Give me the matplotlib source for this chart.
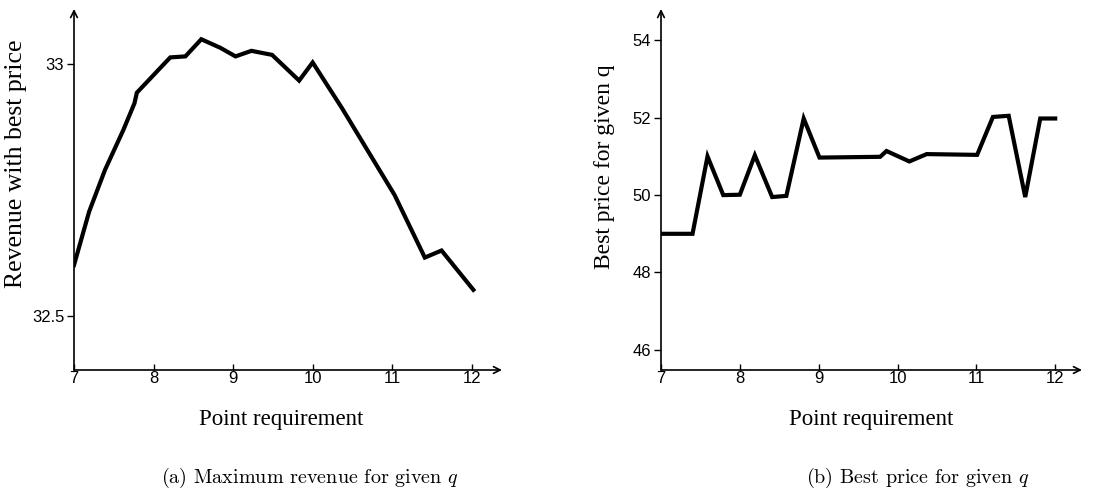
import matplotlib
matplotlib.use('Agg')
import matplotlib.pyplot as plt

# Left panel: maximum revenue vs point requirement
rev_q = [7.0, 7.19, 7.39, 7.62, 7.76, 7.79, 8.21, 8.40, 8.60, 8.84, 9.03,
         9.23, 9.49, 9.83, 10.00, 10.37, 11.03, 11.41, 11.62, 12.02]
revenue = [32.601, 32.707, 32.790, 32.869, 32.922, 32.943, 33.013, 33.015,
           33.049, 33.032, 33.015, 33.026, 33.018, 32.967, 33.003, 32.912,
           32.740, 32.616, 32.630, 32.552]

# Right panel: best price vs point requirement
price_q = [7.0, 7.40, 7.59, 7.79, 8.00, 8.19, 8.41, 8.59, 8.81, 9.01, 9.78,
           9.86, 10.15, 10.37, 11.01, 11.21, 11.41, 11.62, 11.81, 12.0]
best_price = [49.0, 49.0, 51.0, 50.0, 50.01, 51.03, 49.95, 49.98, 51.98,
              50.97, 50.99, 51.14, 50.87, 51.06, 51.04, 52.02, 52.05, 49.95,
              51.98, 51.98]

x_ticks = [7, 8, 9, 10, 11, 12]
rev_ticks = [32.5, 33]
rev_ticklabels = ["32.5", "33"]
price_ticks = [46, 48, 50, 52, 54]

plt.rcParams['mathtext.fontset'] = 'cm'

W, H = 1104, 496
fig = plt.figure(figsize=(W / 100, H / 100), dpi=100)


def style_axes(ax):
    for s in ax.spines.values():
        s.set_visible(False)
    arrow = dict(arrowstyle='->', lw=1.2, color='black',
                 shrinkA=0, shrinkB=0, mutation_scale=12)
    ax.annotate('', xy=(1, 0), xytext=(0, 0), xycoords='axes fraction',
                arrowprops=arrow)
    ax.annotate('', xy=(0, 1), xytext=(0, 0), xycoords='axes fraction',
                arrowprops=arrow)
    ax.tick_params(axis='x', direction='in', length=4, width=1, pad=1,
                   labelsize=12)
    ax.tick_params(axis='y', direction='out', length=5, width=1, pad=2,
                   labelsize=12)
    for lab in ax.get_xticklabels() + ax.get_yticklabels():
        lab.set_family('Liberation Sans')


# ─────────────── left panel ───────────────
ax1 = fig.add_axes([74 / W, 126 / H, 428 / W, 361 / H])
ax1.plot(rev_q, revenue, color='black', linewidth=3, solid_joinstyle='miter')
ax1.set_xlim(7, 12.38)
ax1.set_ylim(32.393, 33.109)
ax1.set_xticks(x_ticks)
ax1.set_yticks(rev_ticks)
ax1.set_yticklabels(rev_ticklabels)
style_axes(ax1)
ax1.set_ylabel("Revenue with best price", family='Liberation Serif', fontsize=18.5)
ax1.yaxis.set_label_coords(-0.11, 0.571)
ax1.set_xlabel("Point requirement", family='Liberation Serif', fontsize=16.5)
ax1.xaxis.set_label_coords(0.485, -0.108)

# ─────────────── right panel ───────────────
ax2 = fig.add_axes([661 / W, 126 / H, 421 / W, 361 / H])
ax2.plot(price_q, best_price, color='black', linewidth=3, solid_joinstyle='miter')
ax2.set_xlim(7, 12.34)
ax2.set_ylim(45.48, 54.81)
ax2.set_xticks(x_ticks)
ax2.set_yticks(price_ticks)
style_axes(ax2)
ax2.set_ylabel("Best price for given q", family='Liberation Serif', fontsize=17)
ax2.yaxis.set_label_coords(-0.109, 0.562)
ax2.set_xlabel("Point requirement", family='Liberation Serif', fontsize=16.5)
ax2.xaxis.set_label_coords(0.50, -0.108)

# captions
fig.text(310 / W, 1 - 478 / H, r"(a) Maximum revenue for given $q$",
         family='cmr10', fontsize=14.5, ha='center', va='center')
fig.text(918 / W, 1 - 478 / H, r"(b) Best price for given $q$",
         family='cmr10', fontsize=14.5, ha='center', va='center')

fig.savefig("out.png", dpi=100)
